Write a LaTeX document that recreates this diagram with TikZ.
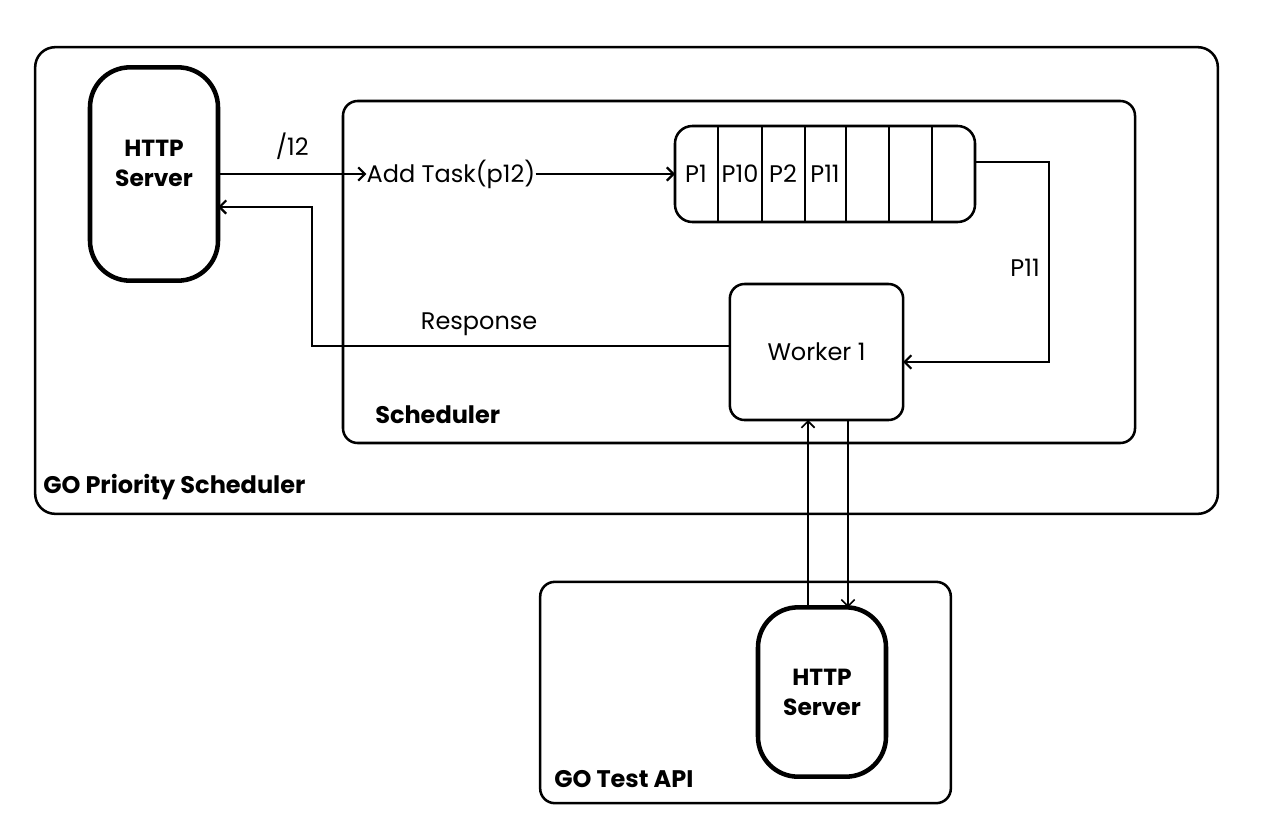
\documentclass[tikz,border=0pt]{standalone}
\usepackage{fontspec}
\setmainfont{Poppins}
\usetikzlibrary{arrows.meta}

\begin{document}
\begin{tikzpicture}[x=0.75pt,y=-0.75pt,
    box/.style={draw, line width=1.9pt, rounded corners=11pt, inner sep=0pt, outer sep=0pt},
    server/.style={draw, line width=3.4pt, rounded corners=30pt, inner sep=0pt, outer sep=0pt, minimum width=96pt},
    conn/.style={line width=1.9pt, -{Straight Barb[length=5pt,width=10pt,line width=1.6pt]}},
    thinconn/.style={line width=1.3pt, -{Straight Barb[length=5pt,width=10pt,line width=1.2pt]}},
    txt/.style={font=\fontsize{18}{21}\selectfont, inner sep=0pt},
    srvtxt/.style={font=\fontsize{17.5}{22.5}\selectfont\bfseries, inner sep=0pt, align=center},
    lbl/.style={font=\fontsize{18}{21}\selectfont\bfseries, inner sep=0pt, anchor=west}]
  \useasboundingbox (0,0) rectangle (1280,832);
  \node[box, rounded corners=15pt, minimum width=887pt, minimum height=350pt] (outer) at (626.5,280.5) {};
  \node[box, minimum width=594pt, minimum height=256.5pt] (sched) at (739,272) {};
  \node[box, minimum width=308pt, minimum height=166pt] (api) at (745.5,692.5) {};
  \node[server, minimum height=160pt] (srvA) at (154,174) {};
  \node[srvtxt] at ([yshift=8pt]srvA.center) {HTTP\\Server};
  \node[server, minimum height=127pt] (srvB) at (822,692) {};
  \node[srvtxt] at (srvB) {HTTP\\Server};
  \node[box, minimum width=130pt, minimum height=102pt] (wk) at (816.5,352) {};
  \node[txt] at (wk) {Worker 1};
  \node[box, rounded corners=13pt, minimum width=225pt, minimum height=72pt] (q) at (825,174) {};
  \foreach \x in {718,762,805,846,889,932}
    \draw[line width=1.9pt] (\x,0 |- q.north) -- (\x,0 |- q.south);
  \foreach \x/\t in {696/P1,740/P10,783/P2,825/P11}
    \node[txt] (q\t) at (\x,174) {\t};
  \node[txt] (add) at (451,174) {Add Task(p12)};
  \node[lbl] (lblA) at (43,487) {GO Priority Scheduler};
  \node[lbl] (lblS) at (375,415) {Scheduler};
  \node[lbl] (lblT) at (554,779) {GO Test API};
  \coordinate (rb) at (312,207);
  \coordinate (rs) at ([yshift=4.5pt]wk.west);
  \draw[conn] (srvA.east |- add) -- node[txt, above=10pt] {/12} (add.west);
  \draw[conn] (add.east) -- (q.west);
  \draw[conn] ([yshift=9pt]q.east) -- ++(74,0) |- node[txt, pos=0.265, left=6pt] {P11} ([yshift=-7.5pt]wk.east);
  \draw[conn] (rs) -- node[txt, pos=0.6, above=6.5pt] {Response} (rs -| rb) -- (rb) -- (rb -| srvA.east);
  \draw[thinconn] (srvB.north -| 808,0) -- (wk.south -| 808,0);
  \draw[thinconn] (wk.south -| 848,0) -- (srvB.north -| 848,0);
\end{tikzpicture}
\end{document}
